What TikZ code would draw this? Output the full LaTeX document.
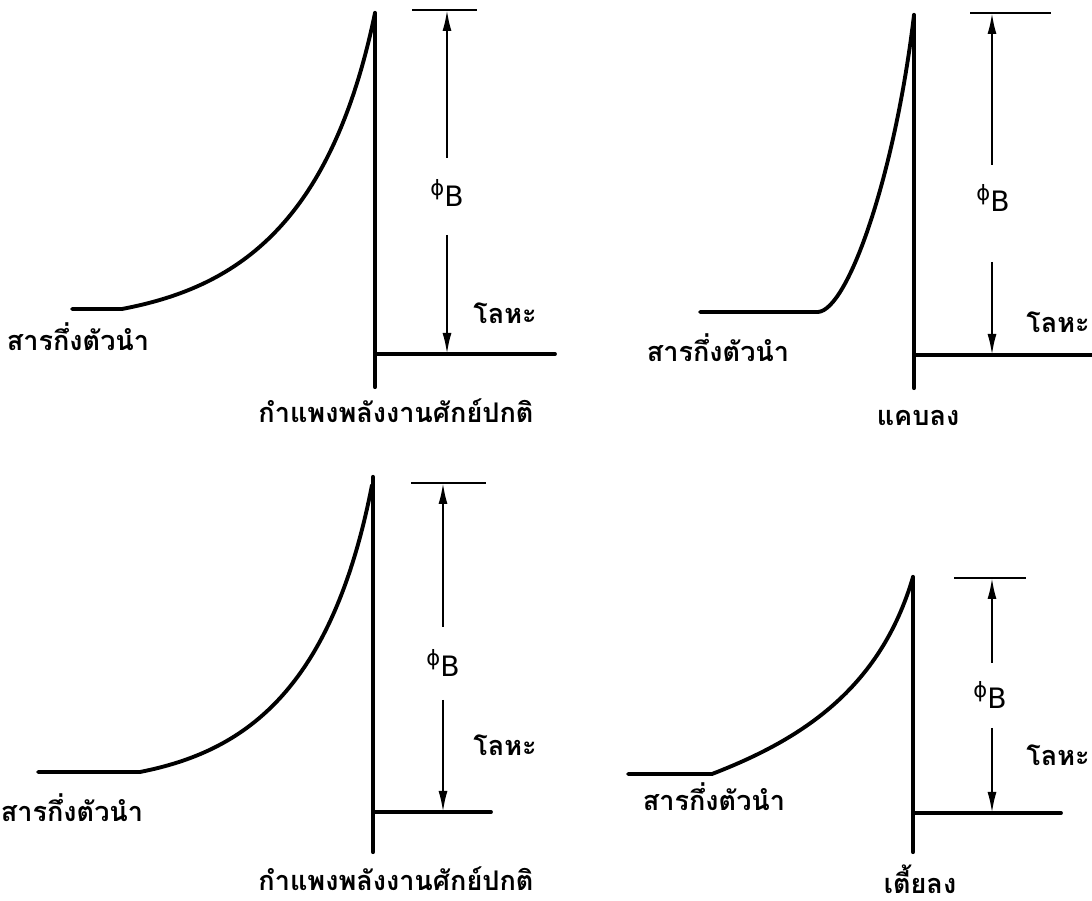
\documentclass[tikz,border=0pt]{standalone}
\usepackage{fontspec}
\usepackage{tikz}
\usetikzlibrary{arrows.meta}
\newfontfamily\thaifont[Script=Thai]{Loma}
\newfontfamily\greekfont{DejaVu Sans}
\newcommand{\phiB}{{\greekfont\raisebox{0.6ex}{\fontsize{6}{7}\selectfont ϕ}\fontsize{8}{9}\selectfont B}}
\tikzset{
  band/.style={line width=1.1pt, line cap=round},
  wall/.style={line width=1.2pt, line cap=round},
  level/.style={line width=0.8pt},
  dimarrow/.style={-{Latex[length=2.1mm, width=0.9mm]}, line width=0.6pt},
  thailabel/.style={font=\thaifont\bfseries\fontsize{7.7}{9}\selectfont, inner sep=1pt},
  philabel/.style={inner sep=1pt}
}

\begin{document}
\begin{tikzpicture}[x=0.1mm, y=-0.1mm]
  \useasboundingbox (0,0) rectangle (1092,901);

  \coordinate (a1flat) at (72,309);
  \coordinate (a1bend) at (122,309);
  \coordinate (a1peak) at (375,13);
  \coordinate (a1foot) at (375,387);
  \coordinate (a1metal) at (375,354);
  \coordinate (a1metalend) at (555,354);
  \coordinate (a1barL) at (412,10);
  \coordinate (a1barR) at (477,10);
  \coordinate (a1tip) at (447,10);
  \coordinate (a1base) at (447,354);
  \coordinate (a1up) at (447,158);
  \coordinate (a1dn) at (447,235);
  \node[philabel] (a1phi) at (447,193) {\phiB};
  \node[thailabel] (a1metallbl) at (505,313) {โลหะ};
  \node[thailabel] (a1semi) at (78,337) {สารกึ่งตัวนำ};
  \node[thailabel] (a1cap) at (396,411) {กำแพงพลังงานศักย์ปกติ};
  \draw[band] (a1flat) -- (a1bend) .. controls (232,288) and (330,230) .. (a1peak);
  \draw[wall] (a1peak) -- (a1foot);
  \draw[band] (a1metal) -- (a1metalend);
  \draw[level] (a1barL) -- (a1barR);
  \draw[dimarrow] (a1up) -- (a1tip);
  \draw[dimarrow] (a1dn) -- (a1base);

  \coordinate (a2flat) at (700,312);
  \coordinate (a2bend) at (818,312);
  \coordinate (a2peak) at (914,15);
  \coordinate (a2foot) at (914,388);
  \coordinate (a2metal) at (914,355);
  \coordinate (a2metalend) at (1092,355);
  \coordinate (a2barL) at (970,13);
  \coordinate (a2barR) at (1051,13);
  \coordinate (a2tip) at (992,13);
  \coordinate (a2base) at (992,355);
  \coordinate (a2up) at (992,165);
  \coordinate (a2dn) at (992,262);
  \node[philabel] (a2phi) at (993,198) {\phiB};
  \node[thailabel] (a2metallbl) at (1058,322) {โลหะ};
  \node[thailabel] (a2semi) at (718,348) {สารกึ่งตัวนำ};
  \node[thailabel] (a2cap) at (918,418) {แคบลง};
  \draw[band] (a2flat) -- (a2bend) .. controls (848,310) and (895,175) .. (a2peak);
  \draw[wall] (a2peak) -- (a2foot);
  \draw[band] (a2metal) -- (a2metalend);
  \draw[level] (a2barL) -- (a2barR);
  \draw[dimarrow] (a2up) -- (a2tip);
  \draw[dimarrow] (a2dn) -- (a2base);

  \coordinate (a3flat) at (38,772);
  \coordinate (a3bend) at (140,772);
  \coordinate (a3peak) at (372,485);
  \coordinate (a3top) at (373,477);
  \coordinate (a3foot) at (373,852);
  \coordinate (a3metal) at (373,812);
  \coordinate (a3metalend) at (491,812);
  \coordinate (a3barL) at (411,483);
  \coordinate (a3barR) at (486,483);
  \coordinate (a3tip) at (443,483);
  \coordinate (a3base) at (443,812);
  \coordinate (a3up) at (443,627);
  \coordinate (a3dn) at (443,700);
  \node[philabel] (a3phi) at (443,663) {\phiB};
  \node[thailabel] (a3metallbl) at (505,745) {โลหะ};
  \node[thailabel] (a3semi) at (72,808) {สารกึ่งตัวนำ};
  \node[thailabel] (a3cap) at (396,879) {กำแพงพลังงานศักย์ปกติ};
  \draw[band] (a3flat) -- (a3bend) .. controls (241,752) and (331,695) .. (a3peak);
  \draw[wall] (a3top) -- (a3foot);
  \draw[band] (a3metal) -- (a3metalend);
  \draw[level] (a3barL) -- (a3barR);
  \draw[dimarrow] (a3up) -- (a3tip);
  \draw[dimarrow] (a3dn) -- (a3base);

  \coordinate (a4flat) at (628,774);
  \coordinate (a4bend) at (712,774);
  \coordinate (a4peak) at (913,577);
  \coordinate (a4foot) at (913,852);
  \coordinate (a4metal) at (913,813);
  \coordinate (a4metalend) at (1061,813);
  \coordinate (a4barL) at (954,578);
  \coordinate (a4barR) at (1026,578);
  \coordinate (a4tip) at (992,578);
  \coordinate (a4base) at (992,813);
  \coordinate (a4up) at (992,663);
  \coordinate (a4dn) at (992,728);
  \node[philabel] (a4phi) at (990,695) {\phiB};
  \node[thailabel] (a4metallbl) at (1058,755) {โลหะ};
  \node[thailabel] (a4semi) at (714,797) {สารกึ่งตัวนำ};
  \node[thailabel] (a4cap) at (920,879) {เตี้ยลง};
  \draw[band] (a4flat) -- (a4bend) .. controls (800,740) and (880,690) .. (a4peak);
  \draw[wall] (a4peak) -- (a4foot);
  \draw[band] (a4metal) -- (a4metalend);
  \draw[level] (a4barL) -- (a4barR);
  \draw[dimarrow] (a4up) -- (a4tip);
  \draw[dimarrow] (a4dn) -- (a4base);
\end{tikzpicture}
\end{document}
